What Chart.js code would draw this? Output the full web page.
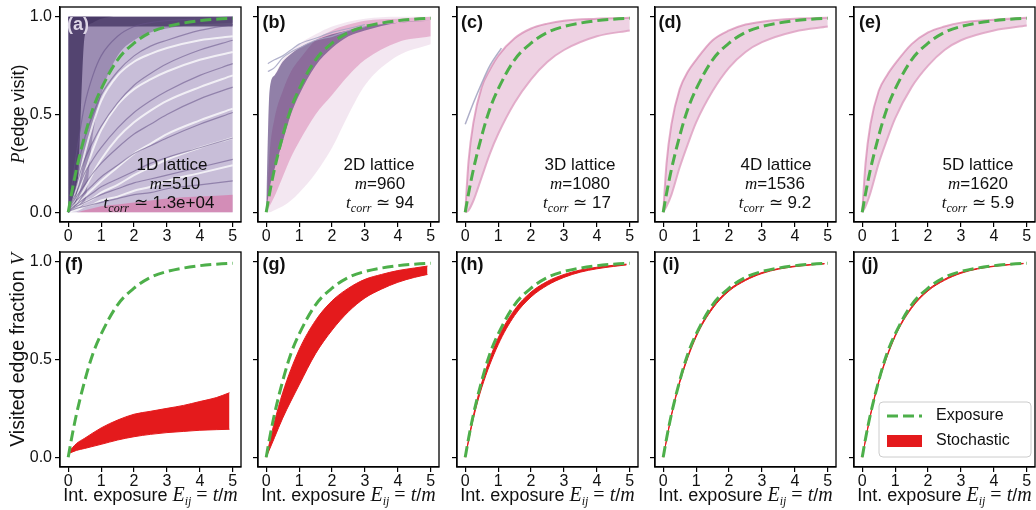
<!DOCTYPE html>
<html>
<head>
<meta charset="utf-8">
<script src="https://cdn.jsdelivr.net/npm/chart.js@4.4.0/dist/chart.umd.min.js"></script>
<style>
body { margin: 0; background: #fff; width: 1036px; height: 510px; overflow: hidden; position: relative;
       font-family: "Liberation Sans", Arial, sans-serif; }
canvas { position: absolute; }
.t { position: absolute; white-space: nowrap; transform: translate(-50%, -50%); color: #111; font-size: 17px; line-height: 1; }
.m { font-family: "Liberation Serif", "DejaVu Serif", serif; font-style: italic; }
.s { font-family: "Liberation Serif", "DejaVu Serif", serif; font-style: italic; font-size: 12px; position: relative; top: 4px; }
.lab { font-weight: bold; font-size: 18px; }
.xl .m { font-size: 20px; }
</style>
</head>
<body>
<script>
// grid used by every curve in the figure
const X = [0, 0.1, 0.25, 0.5, 0.75, 1, 1.5, 2, 2.5, 3, 4, 5];
const exposure = [0, 0.095, 0.22, 0.39, 0.53, 0.63, 0.78, 0.865, 0.92, 0.95, 0.98, 0.993];
const xTicks = [0, 1, 2, 3, 4, 5];
const yTicks = [0, 0.5, 1.0];

// (a) 1D lattice
const aOne  = [1, 1, 1, 1, 1, 1, 1, 1, 1, 1, 1, 1];
const aZero = [0, 0, 0, 0, 0, 0, 0, 0, 0, 0, 0, 0];
const aDarkTop = [0.93, 0.94, 0.95, 0.95, 0.95, 0.95, 0.95, 0.95, 0.95, 0.95, 0.95, 0.95];
const aFast = [0, 0.02, 0.05, 0.9, 0.97, 0.99, 1, 1, 1, 1, 1, 1];
const aMid  = [0, 0.01, 0.02, 0.05, 0.4, 0.6, 0.8, 0.88, 0.92, 0.94, 0.96, 0.97];
const aPink = [0, 0, 0, 0.01, 0.02, 0.03, 0.04, 0.05, 0.06, 0.07, 0.08, 0.09];
const aWhite = [
  [0, 0.04, 0.12, 0.3, 0.45, 0.57, 0.7, 0.77, 0.81, 0.84, 0.88, 0.9],
  [0, 0.03, 0.08, 0.2, 0.32, 0.42, 0.55, 0.63, 0.68, 0.72, 0.78, 0.82],
  [0, 0.02, 0.05, 0.12, 0.2, 0.27, 0.38, 0.46, 0.52, 0.57, 0.64, 0.7],
  [0, 0.01, 0.03, 0.08, 0.12, 0.16, 0.23, 0.3, 0.35, 0.4, 0.47, 0.53],
  [0, 0.01, 0.02, 0.05, 0.07, 0.1, 0.14, 0.19, 0.23, 0.27, 0.33, 0.38],
  [0, 0.005, 0.01, 0.03, 0.04, 0.06, 0.08, 0.11, 0.13, 0.16, 0.2, 0.24]
];
const aPurple = [
  [0, 0.12, 0.3, 0.55, 0.7, 0.8, 0.9, 0.95, 0.97, 0.98, 0.99, 1],
  [0, 0.08, 0.2, 0.38, 0.5, 0.6, 0.72, 0.8, 0.85, 0.88, 0.93, 0.96],
  [0, 0.06, 0.14, 0.27, 0.36, 0.44, 0.56, 0.65, 0.71, 0.76, 0.83, 0.88],
  [0, 0.05, 0.1, 0.2, 0.27, 0.33, 0.43, 0.51, 0.57, 0.62, 0.7, 0.76],
  [0, 0.04, 0.08, 0.14, 0.2, 0.25, 0.33, 0.4, 0.45, 0.5, 0.58, 0.64],
  [0, 0.03, 0.06, 0.1, 0.14, 0.18, 0.24, 0.3, 0.34, 0.38, 0.45, 0.51],
  [0, 0.02, 0.04, 0.07, 0.1, 0.13, 0.17, 0.21, 0.25, 0.28, 0.33, 0.38],
  [0, 0.015, 0.03, 0.05, 0.07, 0.09, 0.12, 0.15, 0.17, 0.19, 0.23, 0.27],
  [0, 0.01, 0.02, 0.03, 0.04, 0.05, 0.07, 0.09, 0.1, 0.12, 0.14, 0.16]
];

// (b) 2D lattice
const bLow  = [0, 0, 0.01, 0.03, 0.06, 0.1, 0.2, 0.33, 0.5, 0.65, 0.8, 0.86];
const bHigh = [0, 0.6, 0.7, 0.78, 0.82, 0.86, 0.91, 0.95, 0.975, 0.99, 1.0, 1.0];
const bPinkLow  = [0, 0.03, 0.08, 0.18, 0.28, 0.36, 0.5, 0.6, 0.7, 0.78, 0.87, 0.9];
const bPinkHigh = [0, 0.3, 0.48, 0.62, 0.72, 0.78, 0.88, 0.93, 0.96, 0.98, 0.99, 1.0];
const bDarkLow  = [0, 0.12, 0.22, 0.36, 0.5, 0.6, 0.75, 0.84, 0.9, 0.93, 0.97, 0.98];
const bDarkHigh = [0, 0.62, 0.7, 0.77, 0.81, 0.84, 0.88, 0.91, 0.93, 0.95, 0.97, 0.98];
const bGreyX = [0.05, 0.25, 0.5, 0.75, 1, 1.5, 2, 2.5, 3];
const bGrey1 = [0.76, 0.78, 0.8, 0.83, 0.86, 0.89, 0.92, 0.94, 0.96];
const bGrey2 = [0.72, 0.74, 0.79, 0.82, 0.84, 0.88, 0.9, 0.93, 0.95];

// (c)-(e) 3D..5D lattices
const cLow  = [0, 0.01, 0.06, 0.18, 0.3, 0.4, 0.56, 0.68, 0.77, 0.83, 0.9, 0.93];
const cHigh = [0, 0.26, 0.46, 0.64, 0.73, 0.8, 0.89, 0.94, 0.965, 0.98, 0.99, 0.995];
const cGreyX = [0, 0.25, 0.5, 0.75, 1.1];
const cGrey  = [0.45, 0.56, 0.66, 0.75, 0.84];
const dLow  = [0, 0.03, 0.09, 0.23, 0.35, 0.46, 0.62, 0.74, 0.82, 0.87, 0.925, 0.95];
const dHigh = [0, 0.25, 0.45, 0.63, 0.72, 0.78, 0.88, 0.93, 0.96, 0.975, 0.99, 0.995];
const eLow  = [0, 0.03, 0.1, 0.25, 0.37, 0.48, 0.64, 0.75, 0.83, 0.88, 0.93, 0.955];
const eHigh = [0, 0.25, 0.45, 0.62, 0.7, 0.76, 0.86, 0.92, 0.95, 0.97, 0.985, 0.995];

// bottom row: stochastic bands
const fX = [0.03, 0.25, 0.5, 1, 1.5, 2, 2.5, 3, 3.5, 4, 4.5, 4.9];
const fLow  = [0.02, 0.035, 0.045, 0.066, 0.088, 0.105, 0.117, 0.126, 0.132, 0.138, 0.141, 0.143];
const fHigh = [0.03, 0.07, 0.097, 0.15, 0.19, 0.22, 0.235, 0.25, 0.265, 0.285, 0.305, 0.33];
const bandX = [0, 0.25, 0.5, 1, 1.5, 2, 2.5, 3, 3.5, 4, 4.5, 4.9];
const gLow  = [0, 0.1, 0.2, 0.37, 0.53, 0.65, 0.745, 0.815, 0.86, 0.895, 0.92, 0.935];
const gHigh = [0, 0.18, 0.33, 0.55, 0.7, 0.8, 0.865, 0.91, 0.935, 0.955, 0.968, 0.978];
const hLow  = [0, 0.2, 0.355, 0.575, 0.725, 0.82, 0.88, 0.92, 0.947, 0.964, 0.976, 0.984];
const hHigh = [0, 0.215, 0.38, 0.61, 0.755, 0.845, 0.9, 0.935, 0.958, 0.972, 0.982, 0.988];
const iLow  = [0, 0.212, 0.38, 0.615, 0.76, 0.85, 0.904, 0.94, 0.962, 0.975, 0.984, 0.989];
const iHigh = [0, 0.218, 0.39, 0.625, 0.77, 0.858, 0.91, 0.945, 0.965, 0.978, 0.986, 0.991];
const jLow  = [0, 0.213, 0.382, 0.617, 0.762, 0.851, 0.905, 0.941, 0.963, 0.976, 0.985, 0.99];
const jHigh = [0, 0.219, 0.39, 0.625, 0.77, 0.858, 0.911, 0.946, 0.966, 0.978, 0.987, 0.992];

const FONT = '"Liberation Sans", Arial, sans-serif';
const GREEN = '#4daf4a', RED = '#e41a1c';
const BOX_L = [60, 258, 457, 655, 854], BOX_T = [7, 252], BOX_W = 181, BOX_H = 215;
const AX_W = 45, AX_H = 30, PAD = 8;

function pts(xs, ys) { return xs.map((x, i) => ({ x: x, y: ys[i] })); }

function addLine(list, xs, ys, color, width, dash) {
    list.push({ data: pts(xs, ys), borderColor: color, borderWidth: width, borderDash: dash || [],
                fill: false, order: -list.length });
}

function addBand(list, xs, lo, hi, color, edge, edgeW) {
    const i = list.length;
    list.push({ data: pts(xs, lo), borderColor: edge || 'rgba(0,0,0,0)', borderWidth: edgeW || 0,
                fill: false, order: -i });
    list.push({ data: pts(xs, hi), borderColor: edge || 'rgba(0,0,0,0)', borderWidth: edgeW || 0,
                backgroundColor: color, fill: i, order: -(i + 1) });
}

const framePlugin = {
    id: 'frame',
    afterDatasetsDraw(chart) {
        const { ctx, chartArea: a } = chart;
        ctx.save();
        ctx.strokeStyle = '#000';
        ctx.lineWidth = 1.3;
        ctx.strokeRect(a.left, a.top, a.right - a.left, a.bottom - a.top);
        ctx.restore();
    }
};

const legendPlugin = {
    id: 'boxLegend',
    afterDatasetsDraw(chart) {
        const { ctx, chartArea: a } = chart;
        const lx = a.left + 25, ly = a.top + 150, w = a.right - 4 - lx, h = 55;
        ctx.save();
        ctx.fillStyle = 'rgba(255,255,255,0.85)';
        ctx.strokeStyle = '#cccccc';
        ctx.lineWidth = 1;
        ctx.beginPath();
        ctx.roundRect(lx, ly, w, h, 4);
        ctx.fill();
        ctx.stroke();
        ctx.strokeStyle = GREEN;
        ctx.lineWidth = 3;
        ctx.setLineDash([11, 5]);
        ctx.beginPath();
        ctx.moveTo(lx + 8, ly + 14);
        ctx.lineTo(lx + 43, ly + 14);
        ctx.stroke();
        ctx.fillStyle = RED;
        ctx.fillRect(lx + 8, ly + 33, 35, 12);
        ctx.fillStyle = '#111';
        ctx.font = '16px ' + FONT;
        ctx.textBaseline = 'middle';
        ctx.fillText('Exposure', lx + 57, ly + 14);
        ctx.fillText('Stochastic', lx + 57, ly + 39);
        ctx.restore();
    }
};

function makeChart(idx, datasets, extra) {
    const col = idx % 5, row = Math.floor(idx / 5);
    const cv = document.createElement('canvas');
    const w = AX_W + BOX_W + PAD, h = PAD + BOX_H + AX_H;
    cv.width = w; cv.height = h;
    cv.style.width = w + 'px'; cv.style.height = h + 'px';
    cv.style.left = (BOX_L[col] - AX_W) + 'px';
    cv.style.top = (BOX_T[row] - PAD) + 'px';
    document.body.appendChild(cv);
    const gridOpts = { drawOnChartArea: false, drawTicks: true, tickLength: 5, color: '#000', lineWidth: 1.2 };
    new Chart(cv, {
        type: 'line',
        data: { datasets: datasets },
        options: {
            responsive: false, animation: false, devicePixelRatio: 1,
            layout: { padding: { top: PAD, right: PAD, left: 0, bottom: 0 } },
            plugins: { legend: { display: false }, tooltip: { enabled: false } },
            elements: { point: { radius: 0 }, line: { cubicInterpolationMode: 'monotone' } },
            scales: {
                x: {
                    type: 'linear', min: -0.25, max: 5.25,
                    afterBuildTicks: a => { a.ticks = xTicks.map(v => ({ value: v })); },
                    afterFit: a => { a.height = AX_H; a.paddingLeft = 0; a.paddingRight = 0; },
                    ticks: { font: { size: 16, family: FONT }, color: '#111', padding: 0, maxRotation: 0,
                             autoSkip: false, callback: v => String(v) },
                    grid: gridOpts,
                    border: { display: true, color: '#000', width: 1.3 }
                },
                y: {
                    type: 'linear', min: -0.05, max: 1.05,
                    afterBuildTicks: a => { a.ticks = yTicks.map(v => ({ value: v })); },
                    afterFit: a => { a.width = AX_W; a.paddingTop = 0; a.paddingBottom = 0; },
                    ticks: { font: { size: 16, family: FONT }, color: '#111', padding: 3,
                             autoSkip: false, callback: v => (col === 0 ? v.toFixed(1) : '') },
                    grid: gridOpts,
                    border: { display: true, color: '#000', width: 1.3 }
                }
            }
        },
        plugins: [framePlugin].concat(extra || [])
    });
}

// ---- top row ----
let ds = [];
addBand(ds, X, aZero, aOne, 'rgb(200,190,216)');
addBand(ds, X, aMid, aOne, 'rgba(120,100,150,0.55)');
addBand(ds, X, aFast, aOne, 'rgba(70,55,100,0.85)');
addBand(ds, X, aDarkTop, aOne, 'rgba(70,55,100,0.8)');
addBand(ds, X, aZero, aPink, 'rgba(215,120,170,0.7)');
aWhite.forEach(c => addLine(ds, X, c, 'rgba(255,255,255,0.75)', 2));
aPurple.forEach(c => addLine(ds, X, c, 'rgba(100,80,135,0.55)', 1.2));
addLine(ds, X, exposure, GREEN, 3, [11, 5]);
makeChart(0, ds);

ds = [];
addBand(ds, X, bLow, bHigh, 'rgba(234,212,230,0.55)');
addBand(ds, X, bPinkLow, bPinkHigh, 'rgba(215,120,170,0.45)');
addBand(ds, X, bDarkLow, bDarkHigh, 'rgba(80,60,120,0.6)');
addLine(ds, bGreyX, bGrey1, 'rgba(165,165,195,0.85)', 1.2);
addLine(ds, bGreyX, bGrey2, 'rgba(165,165,195,0.85)', 1.2);
addLine(ds, X, exposure, GREEN, 3, [11, 5]);
makeChart(1, ds);

[[cLow, cHigh, 2], [dLow, dHigh, 3], [eLow, eHigh, 4]].forEach(p => {
    ds = [];
    addBand(ds, X, p[0], p[1], 'rgba(222,165,200,0.5)', 'rgba(205,110,160,0.55)', 2);
    if (p[2] === 2) addLine(ds, cGreyX, cGrey, 'rgba(160,160,190,0.85)', 1.5);
    addLine(ds, X, exposure, GREEN, 3, [11, 5]);
    makeChart(p[2], ds);
});

// ---- bottom row ----
[[fX, fLow, fHigh], [bandX, gLow, gHigh], [bandX, hLow, hHigh], [bandX, iLow, iHigh], [bandX, jLow, jHigh]]
    .forEach((p, k) => {
        ds = [];
        addBand(ds, p[0], p[1], p[2], RED, RED, 1);
        addLine(ds, X, exposure, GREEN, 3, [11, 5]);
        makeChart(5 + k, ds, k === 4 ? [legendPlugin] : []);
    });

// ---- text ----
function txt(html, x, y, cls, style) {
    const d = document.createElement('div');
    d.className = 't' + (cls ? ' ' + cls : '');
    d.innerHTML = html;
    d.style.left = x + 'px';
    d.style.top = y + 'px';
    if (style) d.style.cssText += style;
    document.body.appendChild(d);
}

const panelLabels = [['(a)', 78, 24], ['(b)', 274, 22], ['(c)', 472, 22], ['(d)', 670, 22], ['(e)', 870, 22],
                     ['(f)', 74, 264], ['(g)', 274, 264], ['(h)', 472, 264], ['(i)', 671, 264], ['(j)', 870, 264]];
panelLabels.forEach((p, i) => txt(p[0], p[1], p[2], 'lab', i === 0 ? 'color:#ddd6e6;' : ''));

const lattices = [['1D', '510', '1.3e+04', 172, 175, 159], ['2D', '960', '94', 379, 380, 380],
                  ['3D', '1080', '17', 580, 580, 577], ['4D', '1536', '9.2', 776, 775, 775],
                  ['5D', '1620', '5.9', 978, 978, 978]];
lattices.forEach(l => {
    txt(l[0] + ' lattice', l[3], 164);
    txt('<span class="m">m</span>=' + l[1], l[4], 183);
    txt('<span class="m">t</span><span class="s">corr</span> &#8771; ' + l[2], l[5], 202);
});

txt('<span class="m">P</span>(edge visit)', 18, 114, '', 'transform:translate(-50%,-50%) rotate(-90deg);font-size:18px;');
txt('Visited edge fraction <span class="m">V</span>', 18, 350, '', 'transform:translate(-50%,-50%) rotate(-90deg);font-size:19.5px;');
BOX_L.forEach(l => {
    txt('Int. exposure <span class="m">E</span><span class="s">ij</span> <span class="m" style="font-style:normal">=</span> <span class="m">t</span>/<span class="m">m</span>',
        l + BOX_W / 2, 494, 'xl', 'font-size:18px;');
});
</script>
</body>
</html>
